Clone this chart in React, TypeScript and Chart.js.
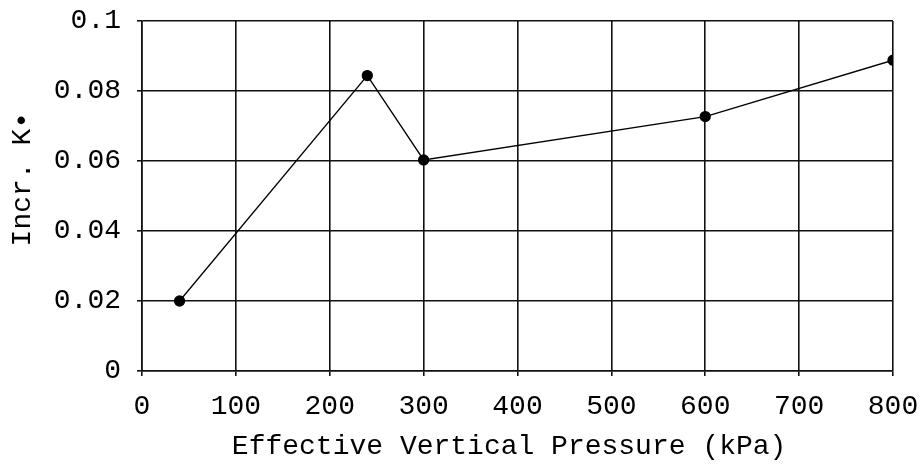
import React, { useEffect, useRef } from "react";
import { Chart, registerables } from "chart.js";

Chart.register(...registerables);

const pressures = [40, 240, 300, 600, 800];
const incrK = [0.02, 0.0844, 0.0603, 0.0727, 0.0888];
const xTickLabels = ["0", "100", "200", "300", "400", "500", "600", "700", "800"];
const yTickLabels = ["0", "0.02", "0.04", "0.06", "0.08", "0.1"];
const xTitle = "Effective Vertical Pressure (kPa) ";
const yTitle = "  Incr. K\u2022";

const FONT = "'Liberation Mono', 'Courier New', monospace";

export default function App() {
  const ref = useRef<HTMLCanvasElement | null>(null);

  useEffect(() => {
    if (!ref.current) return;
    const chart = new Chart(ref.current, {
      type: "line",
      data: {
        datasets: [
          {
            data: pressures.map((x, i) => ({ x, y: incrK[i] })),
            borderColor: "#000",
            borderWidth: 1.3,
            backgroundColor: "#000",
            pointBackgroundColor: "#000",
            pointBorderColor: "#000",
            pointRadius: 5,
            tension: 0,
            fill: false,
          },
        ],
      },
      options: {
        animation: false,
        responsive: false,
        maintainAspectRatio: false,
        layout: { padding: { left: 0, top: 21, right: 29, bottom: 0 } },
        plugins: {
          legend: { display: false },
          tooltip: { enabled: false },
        },
        scales: {
          x: {
            type: "linear",
            min: 0,
            max: 800,
            afterFit: (s: any) => {
              s.height = 99;
              s.paddingLeft = 0;
              s.paddingRight = 0;
            },
            ticks: {
              stepSize: 100,
              color: "#000",
              padding: 14,
              maxRotation: 0,
              autoSkip: false,
              font: { family: FONT, size: 28 },
              callback: (_v: any, i: number) => xTickLabels[i],
            },
            grid: { color: "#111", lineWidth: 1.6, tickLength: 5 },
            border: { color: "#111", width: 1.6 },
            title: {
              display: true,
              text: xTitle,
              color: "#000",
              font: { family: FONT, size: 28 },
              padding: { top: 0, bottom: 7 },
            },
          },
          y: {
            type: "linear",
            min: 0,
            max: 0.1,
            afterFit: (s: any) => {
              s.width = 142;
              s.paddingTop = 0;
              s.paddingBottom = 0;
            },
            ticks: {
              stepSize: 0.02,
              color: "#000",
              padding: 16,
              autoSkip: false,
              font: { family: FONT, size: 28 },
              callback: (_v: any, i: number) => yTickLabels[i],
            },
            grid: { color: "#111", lineWidth: 1.6, tickLength: 5 },
            border: { color: "#111", width: 1.6 },
            title: {
              display: true,
              text: yTitle,
              color: "#000",
              font: { family: FONT, size: 28 },
              padding: { top: 6, bottom: 0 },
            },
          },
        },
      },
    });
    return () => chart.destroy();
  }, []);

  return (
    <div style={{ position: "fixed", left: 0, top: 0, width: 922, height: 470, background: "#fff" }}>
      <canvas ref={ref} width={922} height={470} style={{ width: 922, height: 470, display: "block" }} />
    </div>
  );
}
